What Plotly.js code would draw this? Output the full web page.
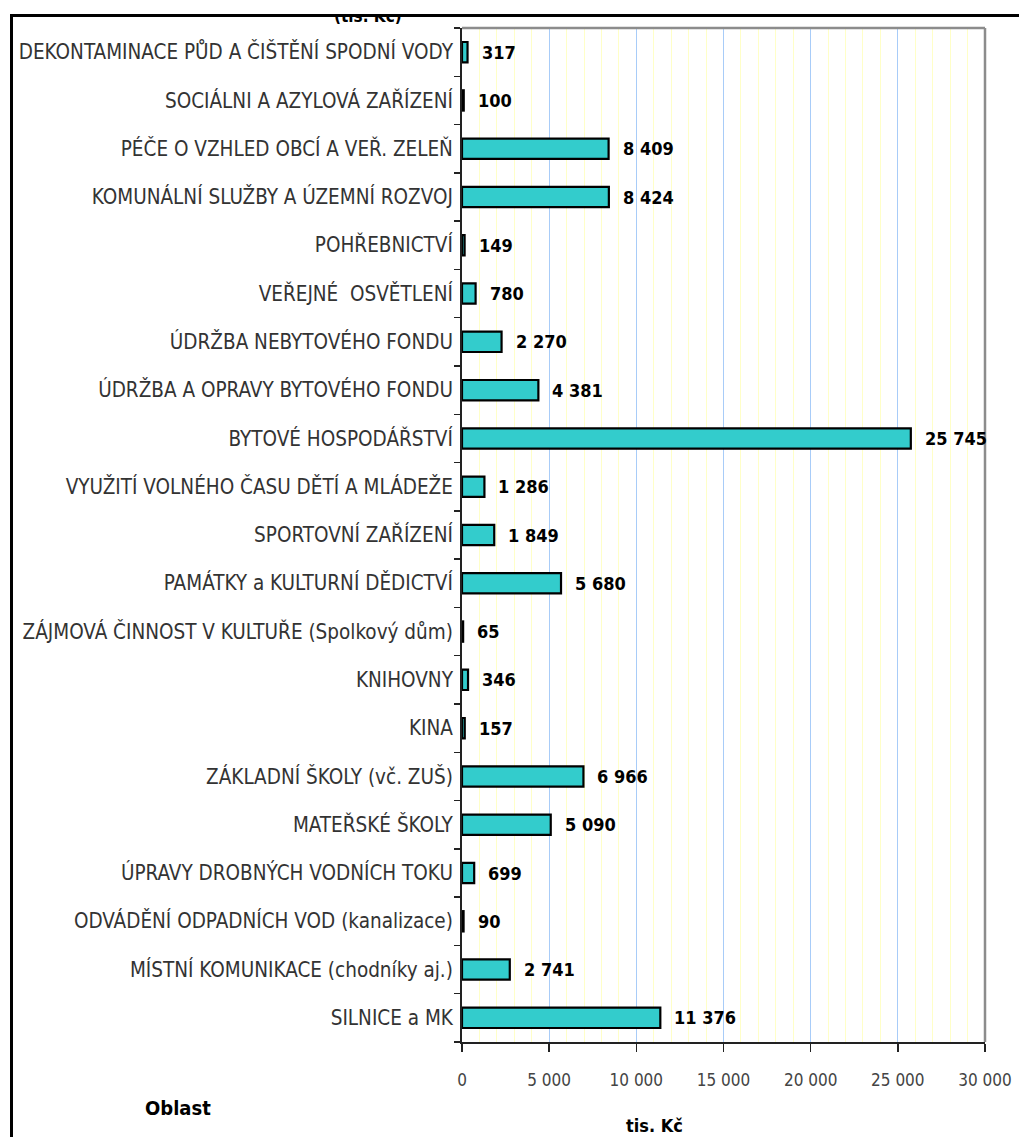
<!DOCTYPE html>
<html>
<head>
<meta charset="utf-8">
<script src="https://cdn.plot.ly/plotly-3.0.1.min.js"></script>
<style>
  html, body { margin: 0; padding: 0; background: #fff; overflow: hidden; }
  #wrap { position: absolute; left: 0; top: 17px; width: 1019px; height: 1120px; overflow: hidden; }
  #chart { position: absolute; left: 0; top: -17px; width: 1019px; height: 1137px; }
  #frame { position: absolute; left: 10px; top: 14px; width: 2000px; height: 2000px;
           border-top: 3px solid #000; border-left: 3px solid #000; pointer-events: none; }
</style>
</head>
<body>
<div id="wrap"><div id="chart"></div></div>
<div id="frame"></div>
<script>
// Categories listed bottom to top
const categories = [
  "SILNICE a MK",
  "MÍSTNÍ KOMUNIKACE (chodníky aj.)",
  "ODVÁDĚNÍ ODPADNÍCH VOD (kanalizace)",
  "ÚPRAVY DROBNÝCH VODNÍCH TOKU",
  "MATEŘSKÉ ŠKOLY",
  "ZÁKLADNÍ ŠKOLY (vč. ZUŠ)",
  "KINA",
  "KNIHOVNY",
  "ZÁJMOVÁ ČINNOST V KULTUŘE (Spolkový dům)",
  "PAMÁTKY a KULTURNÍ DĚDICTVÍ",
  "SPORTOVNÍ ZAŘÍZENÍ",
  "VYUŽITÍ VOLNÉHO ČASU DĚTÍ A MLÁDEŽE",
  "BYTOVÉ HOSPODÁŘSTVÍ",
  "ÚDRŽBA A OPRAVY BYTOVÉHO FONDU",
  "ÚDRŽBA NEBYTOVÉHO FONDU",
  "VEŘEJNÉ  OSVĚTLENÍ",
  "POHŘEBNICTVÍ",
  "KOMUNÁLNÍ SLUŽBY A ÚZEMNÍ ROZVOJ",
  "PÉČE O VZHLED OBCÍ A VEŘ. ZELEŇ",
  "SOCIÁLNI A AZYLOVÁ ZAŘÍZENÍ",
  "DEKONTAMINACE PŮD A ČIŠTĚNÍ SPODNÍ VODY"
];
const values = [
  11376, 2741, 90, 699, 5090, 6966, 157, 346, 65, 5680, 1849,
  1286, 25745, 4381, 2270, 780, 149, 8424, 8409, 100, 317
];
const chartTitle = "(tis. Kč)";
const xTitle = "tis. Kč";
const yTitle = "Oblast";

const NARROW = "'Liberation Sans Narrow', 'Arial Narrow', 'DejaVu Sans Condensed', sans-serif";
function fmt(v) { return String(v).replace(/\B(?=(\d{3})+(?!\d))/g, " "); }

const trace = {
  type: "bar",
  orientation: "h",
  x: values,
  y: categories,
  width: 0.42,
  marker: { color: "#33CCCC", line: { color: "#000000", width: 2.2 } },
  hoverinfo: "x+y"
};

const annotations = values.map((v, i) => ({
  x: v, y: categories[i], xref: "x", yref: "y",
  text: fmt(v), showarrow: false, xanchor: "left", yanchor: "middle", xshift: 12,
  font: { family: NARROW, size: 18, color: "#000", weight: "bold" }
}));

// helper annotations given in page pixels, converted below
const helpers = [
  { x: 654, y: 1125, text: xTitle, xanchor: "center", yanchor: "middle",
    font: { family: NARROW, size: 18, color: "#000", weight: "bold" } },
  { x: 178, y: 1108, text: yTitle, xanchor: "center", yanchor: "middle",
    font: { family: NARROW, size: 20, color: "#000", weight: "bold" } },
  { x: 368, y: 28, text: chartTitle, xanchor: "center", yanchor: "bottom",
    font: { family: NARROW, size: 17, color: "#000", weight: "bold" } }
];

const L = 462, R = 985, T = 28, B = 1042;
helpers.forEach(h => {
  annotations.push(Object.assign({}, h, {
    xref: "paper", yref: "paper", showarrow: false,
    x: (h.x - L) / (R - L), y: (B - h.y) / (B - T)
  }));
});

const layout = {
  width: 1019, height: 1137,
  margin: { l: L, r: 1019 - R, t: T, b: 1137 - B, pad: 0 },
  paper_bgcolor: "#ffffff",
  plot_bgcolor: "#ffffff",
  separators: ", ",
  showlegend: false,
  bargap: 0.58,
  xaxis: {
    range: [0, 30000],
    dtick: 5000, tick0: 0,
    tickformat: ",d",
    showgrid: true, gridcolor: "#A8CCF8", gridwidth: 1,
    minor: { dtick: 1000, showgrid: true, gridcolor: "#FFFFC8", gridwidth: 1 },
    zeroline: false,
    showline: true, linecolor: "#222", linewidth: 2,
    ticks: "outside", ticklen: 8, tickcolor: "#222", tickwidth: 1.5,
    ticklabelstandoff: 14,
    tickfont: { family: NARROW, size: 17, color: "#444" },
    fixedrange: true
  },
  yaxis: {
    type: "category",
    categoryorder: "array", categoryarray: categories,
    range: [-0.5, categories.length - 0.5],
    showline: true, linecolor: "#222", linewidth: 2,
    ticks: "outside", ticklen: 6, tickcolor: "#222", tickwidth: 1.5,
    tickson: "boundaries",
    ticklabelstandoff: 3,
    showgrid: false,
    tickfont: { family: NARROW, size: 20.5, color: "#333" },
    fixedrange: true
  },
  shapes: [
    { type: "line", xref: "paper", yref: "paper", x0: 0, x1: 1, y0: 1, y1: 1,
      line: { color: "#8C8C8C", width: 2.5 } },
    { type: "line", xref: "paper", yref: "paper", x0: 1, x1: 1, y0: 0, y1: 1,
      line: { color: "#8C8C8C", width: 2.5 } }
  ],
  annotations: annotations
};

Plotly.newPlot("chart", [trace], layout, { staticPlot: true, displayModeBar: false });
</script>
</body>
</html>
